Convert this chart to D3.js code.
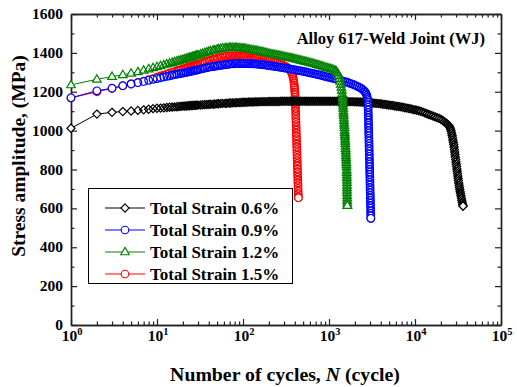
<!DOCTYPE html>
<html>
<head>
<meta charset="utf-8">
<style>
  body { margin: 0; background: #fff; }
  svg text { font-family: "Liberation Serif", "Times New Roman", serif; font-weight: bold; fill: #000; }
</style>
</head>
<body>
<script src="https://cdn.jsdelivr.net/npm/d3@7"></script>
<script>

// data: [cycles, stress amplitude (MPa)] ////////////////////////////////////

const strain06 = [[1,1012],[2,1085],[3,1094],[4,1098],[5,1101],[6,1104],[7,1107],[8,1110],[9,1113],[10,1115],[11,1116],[12,1117],[13,1119],[14,1120],[15,1121],[16,1122],[17,1123],[18,1124],[19,1125],[20,1126],[21,1126],[22,1127],[23,1128],[24,1128],[25,1129],[26,1129],[27,1130],[28,1130],[29,1131],[30,1131],
	[32,1132],[34,1133],[36,1134],[38,1134],[40,1135],[42,1136],[45,1136],[47,1137],[50,1138],[52,1138],[55,1139],[58,1140],[62,1140],[65,1141],[69,1142],[72,1142],[76,1143],[81,1143],[85,1144],[90,1144],[95,1145],
	[100,1146],[105,1146],[111,1146],[117,1147],[124,1147],[131,1147],[138,1148],[145,1148],[153,1148],[162,1149],[171,1149],[180,1149],[190,1149],[200,1150],[211,1150],[223,1150],[235,1150],[248,1150],[262,1150],[276,1151],[291,1151],[307,1151],[324,1151],[342,1151],[360,1151],[380,1151],[401,1151],[423,1151],[447,1151],[471,1151],[497,1151],[525,1151],[554,1151],[584,1151],[616,1151],[650,1151],[686,1151],[724,1151],[763,1151],[805,1151],[850,1151],[897,1151],[946,1151],
	[1000,1151],[1050,1151],[1110,1151],[1170,1151],[1240,1151],[1310,1151],[1380,1150],[1450,1150],[1530,1150],[1620,1150],[1710,1149],[1800,1149],[1900,1149],[2000,1148],[2110,1148],[2230,1147],[2350,1147],[2480,1146],[2620,1146],[2760,1145],[2910,1144],[3070,1143],[3240,1142],[3420,1141],[3600,1140],[3800,1139],[4010,1138],[4230,1136],[4470,1135],[4710,1133],[4970,1132],[5250,1130],[5540,1129],[5840,1127],[6160,1125],[6500,1124],[6860,1122],[7240,1120],[7630,1118],[8050,1116],[8500,1114],[8970,1112],[9460,1109],
	[10000,1107],[10500,1105],[11100,1102],[11700,1099],[12400,1095],[13100,1091],[13800,1087],[14500,1083],[15300,1079],[16200,1075],[17100,1071],[18000,1067],[19000,1063],[20000,1058],[21000,1052],[22000,1045],[22700,1041],[23400,1036],[24100,1031],[24800,1025],[25400,1018],[25900,1008],[26300,998],[26700,986],[27000,975],[27300,964],[27600,952],[27900,940],[28200,928],[28450,916],[28700,903],[28950,890],[29200,877],[29450,864],[29700,851],[29950,839],[30200,827],[30450,815],[30700,803],[30950,791],[31200,779],[31450,767],[31700,755],[31950,743],[32250,731],[32550,719],[32850,708],[33150,697],[33500,686],[33850,676],[34200,665],[34600,654],[35000,642],[35400,631],[35800,621],[36200,612]];

const strain09 = [[1,1169],[2,1205],[3,1218],[4,1231],[5,1240],[6,1247],[7,1253],[8,1259],[9,1264],[10,1268],[11,1272],[12,1276],[13,1279],[14,1282],[15,1285],[16,1288],[17,1290],[18,1292],[19,1294],[20,1296],[21,1298],[22,1300],[23,1302],[24,1303],[25,1305],[26,1307],[27,1309],[28,1310],[29,1312],[30,1313],
	[32,1316],[34,1319],[36,1322],[38,1324],[40,1326],[42,1328],[45,1330],[47,1331],[50,1333],[52,1334],[55,1336],[58,1337],[62,1339],[65,1340],[69,1342],[72,1343],[76,1344],[81,1344],[85,1345],[90,1345],[95,1345],
	[100,1345],[105,1345],[111,1345],[117,1344],[124,1344],[131,1343],[138,1343],[145,1342],[153,1341],[162,1340],[171,1339],[180,1338],[190,1336],[200,1335],[211,1333],[223,1332],[235,1330],[248,1329],[262,1327],[276,1325],[291,1324],[307,1322],[324,1320],[342,1318],[360,1316],[380,1315],[401,1313],[423,1311],[447,1309],[471,1307],[497,1305],[525,1303],[554,1301],[584,1298],[616,1296],[650,1294],[686,1292],[724,1289],[763,1287],[805,1285],[850,1282],[897,1279],[946,1277],
	[1000,1274],[1050,1272],[1110,1269],[1170,1267],[1240,1264],[1310,1261],[1380,1258],[1450,1255],[1530,1252],[1620,1249],[1710,1245],[1800,1242],[1900,1238],[2000,1234],[2110,1229],[2230,1224],[2350,1218],[2460,1212],[2560,1205],[2640,1198],[2700,1190],[2750,1181],[2790,1171],[2820,1160],[2835,1147],[2845,1133],
	[2850,1120],[2855,1107],[2860,1093],[2865,1080],[2870,1067],[2875,1054],[2880,1040],[2885,1027],[2890,1014],[2895,1000],[2900,987],[2905,974],[2910,960],[2915,947],[2920,934],[2925,920],[2930,907],[2935,894],[2940,880],[2945,867],[2950,854],[2955,840],[2960,827],[2965,814],[2970,800],[2975,787],[2980,774],[2985,761],[2990,747],[2995,734],[3000,721],[3005,707],[3010,694],[3015,681],[3020,667],[3025,654],[3030,641],[3035,627],[3040,614],[3045,601],[3050,587],[3055,574],[3060,561],[3066,549]];

const strain12 = [[1,1235],[2,1264],[3,1278],[4,1287],[5,1295],[6,1302],[7,1310],[8,1317],[9,1323],[10,1328],[11,1333],[12,1338],[13,1342],[14,1346],[15,1350],[16,1354],[17,1357],[18,1360],[19,1363],[20,1366],[21,1368],[22,1371],[23,1374],[24,1376],[25,1378],[26,1381],[27,1383],[28,1385],[29,1387],[30,1389],
	[32,1393],[34,1397],[36,1400],[38,1404],[40,1407],[42,1410],[45,1413],[47,1415],[50,1418],[52,1420],[55,1422],[58,1424],[62,1425],[65,1426],[69,1427],[72,1428],[76,1428],[81,1428],[85,1427],[90,1426],[95,1425],
	[100,1424],[105,1423],[111,1421],[117,1419],[124,1417],[131,1415],[138,1413],[145,1412],[153,1410],[162,1407],[171,1405],[180,1402],[190,1400],[200,1397],[211,1395],[223,1393],[235,1391],[248,1389],[262,1387],[276,1385],[291,1383],[307,1380],[324,1378],[342,1376],[360,1374],[380,1372],[401,1369],[423,1367],[447,1364],[471,1362],[497,1359],[525,1357],[554,1354],[584,1351],[616,1349],[650,1346],[686,1343],[724,1340],[763,1337],[805,1334],[850,1331],[897,1327],[946,1324],
	[1000,1321],[1050,1318],[1110,1315],[1170,1311],[1220,1305],[1260,1296],[1295,1283],[1325,1268],[1350,1253],[1372,1238],[1392,1223],[1410,1207],[1425,1190],[1435,1176],
	[1441,1164],[1447,1151],[1453,1139],[1459,1126],[1465,1114],[1471,1101],[1477,1089],[1483,1077],[1489,1064],[1495,1052],[1501,1039],[1507,1027],[1513,1015],[1519,1002],[1525,990],[1530,979],[1535,969],[1540,957],[1545,945],[1550,933],[1555,921],[1560,908],[1565,896],[1570,884],[1575,872],[1580,860],[1585,848],[1590,836],[1595,824],[1600,812],[1606,797],[1608,784],[1610,771],[1612,758],[1614,745],[1616,732],[1618,719],[1620,706],[1622,693],[1624,680],[1626,666],[1628,653],[1630,640],[1632,627],[1633,614]];

const strain15 = [[1,1168],[2,1200],[3,1217],[4,1230],[5,1240],[6,1248],[7,1255],[8,1262],[9,1268],[10,1275],[11,1281],[12,1286],[13,1291],[14,1296],[15,1300],[16,1304],[17,1308],[18,1311],[19,1314],[20,1318],[21,1320],[22,1323],[23,1326],[24,1328],[25,1331],[26,1333],[27,1335],[28,1337],[29,1339],[30,1341],
	[32,1345],[34,1349],[36,1353],[38,1356],[40,1359],[42,1362],[45,1366],[47,1368],[50,1372],[52,1374],[55,1376],[58,1379],[62,1381],[65,1383],[69,1384],[72,1385],[76,1386],[81,1386],[85,1386],[90,1385],[95,1385],
	[100,1384],[105,1383],[111,1381],[117,1380],[124,1378],[131,1377],[138,1375],[145,1374],[153,1372],[162,1370],[171,1367],[180,1365],[190,1363],[200,1361],[211,1358],[223,1355],[235,1352],[248,1349],[262,1345],[276,1341],[291,1337],[307,1332],[324,1326],[342,1319],[355,1310],[365,1300],[373,1290],[380,1279],[385,1268],[389,1256],[392,1245],[395,1233],[397,1222],[399,1210],[401,1198],[403,1186],
	[404,1172],[405,1158],[406,1144],[407,1130],[408,1115],[409,1101],[410,1087],[411,1073],[412,1058],[413,1044],[414,1030],[415,1016],[416,1002],[417,987],[418,973],[419,959],[420,945],[421,930],[422,916],[423,902],[424,888],[425,874],[426,859],[427,845],[428,831],[429,817],[430,802],[431,788],[432,774],[433,760],[434,745],[435,731],[436,717],[437,703],[438,689],[439,675],[440,662],[441,655]];

const legendLabels = ['Total Strain 0.6%', 'Total Strain 0.9%', 'Total Strain 1.2%', 'Total Strain 1.5%'];
const yTicks = [0, 200, 400, 600, 800, 1000, 1200, 1400, 1600];
const yMinor = [100, 300, 500, 700, 900, 1100, 1300, 1500];
const xDecades = [0, 1, 2, 3, 4, 5];
const title = 'Alloy 617-Weld Joint (WJ)';

// layout ///////////////////////////////////////////////////////////////////

const W = 517, H = 387;
const box = {left: 71, right: 501, top: 14, bottom: 325};

const svg = d3.select('body').append('svg')
	.attr('width', W)
	.attr('height', H);

const x = d3.scaleLog()
	.domain([1, 1e5])
	.range([box.left, box.right]);

const y = d3.scaleLinear()
	.domain([0, 1600])
	.range([box.bottom, box.top]);

const series = [
	{label: legendLabels[0], data: strain06, color: '#000000', symbol: 'diamond'},
	{label: legendLabels[1], data: strain09, color: '#0000ff', symbol: 'circle'},
	{label: legendLabels[2], data: strain12, color: '#008000', symbol: 'triangle'},
	{label: legendLabels[3], data: strain15, color: '#ff0000', symbol: 'circle'},
];

function marker(sym) {
	if (sym == 'diamond') { let r = 4.1; return `M0,${-r}L${r},0L0,${r}L${-r},0Z`; }
	if (sym == 'triangle') { return 'M0,-4.6L4.3,2.8L-4.3,2.8Z'; }
	let r = 3.8;
	return `M${-r},0A${r},${r} 0 1,0 ${r},0A${r},${r} 0 1,0 ${-r},0Z`;
}

// axes /////////////////////////////////////////////////////////////////////

const xMinor = [];
xDecades.slice(0, -1).forEach(k => { for (let m = 2; m < 10; m++) xMinor.push(m * Math.pow(10, k)); });
const xMajor = xDecades.map(k => Math.pow(10, k));

const axes = svg.append('g');

function frame(axis, tr) {
	axes.append('g')
		.attr('transform', tr)
		.call(axis)
		.call(a => a.selectAll('text').remove())
		.call(a => a.selectAll('line').attr('stroke', '#222').attr('stroke-width', 1.2))
		.call(a => a.select('.domain').attr('stroke', '#222').attr('stroke-width', 1.4));
}

frame(d3.axisBottom(x).tickValues(xMajor).tickSizeInner(-6).tickSizeOuter(0), `translate(0,${box.bottom})`);
frame(d3.axisBottom(x).tickValues(xMinor).tickSizeInner(-3.5).tickSizeOuter(0), `translate(0,${box.bottom})`);
frame(d3.axisTop(x).tickValues(xMajor).tickSizeInner(-6).tickSizeOuter(0), `translate(0,${box.top})`);
frame(d3.axisTop(x).tickValues(xMinor).tickSizeInner(-3.5).tickSizeOuter(0), `translate(0,${box.top})`);
frame(d3.axisLeft(y).tickValues(yTicks).tickSizeInner(-6).tickSizeOuter(0), `translate(${box.left},0)`);
frame(d3.axisLeft(y).tickValues(yMinor).tickSizeInner(-3.5).tickSizeOuter(0), `translate(${box.left},0)`);
frame(d3.axisRight(y).tickValues(yTicks).tickSizeInner(-6).tickSizeOuter(0), `translate(${box.right},0)`);
frame(d3.axisRight(y).tickValues(yMinor).tickSizeInner(-3.5).tickSizeOuter(0), `translate(${box.right},0)`);

// tick labels
svg.append('g').selectAll('text')
	.data(yTicks)
	.join('text')
		.attr('x', box.left - 8)
		.attr('y', d => y(d) + 5)
		.attr('text-anchor', 'end')
		.attr('font-size', 15.5)
		.text(d => d);

svg.append('g').selectAll('text')
	.data(xDecades)
	.join('text')
		.attr('x', d => x(Math.pow(10, d)) + 1)
		.attr('y', box.bottom + 16)
		.attr('text-anchor', 'middle')
		.attr('font-size', 15.5)
		.call(t => t.append('tspan').text('10'))
		.call(t => t.append('tspan')
			.attr('dy', -6)
			.attr('font-size', 10.5)
			.text(d => d));

// axis titles
svg.append('text')
	.attr('x', 285)
	.attr('y', 381)
	.attr('text-anchor', 'middle')
	.attr('font-size', 19.8)
	.call(t => t.append('tspan').text('Number of cycles, '))
	.call(t => t.append('tspan').attr('font-style', 'italic').text('N'))
	.call(t => t.append('tspan').text(' (cycle)'));

svg.append('text')
	.attr('transform', `translate(25,156) rotate(-90)`)
	.attr('text-anchor', 'middle')
	.attr('font-size', 19.5)
	.text('Stress amplitude, (MPa)');

svg.append('text')
	.attr('x', 485)
	.attr('y', 44)
	.attr('text-anchor', 'end')
	.attr('font-size', 16.5)
	.text(title);

// series ///////////////////////////////////////////////////////////////////

const line = d3.line()
	.x(d => x(d[0]))
	.y(d => y(d[1]));

// drawing order as in the original figure: red, black, blue, green
const plot = svg.append('g');
[3, 0, 1, 2].forEach(i => {
	const s = series[i];
	const g = plot.append('g');
	g.append('path')
		.attr('d', line(s.data))
		.attr('fill', 'none')
		.attr('stroke', s.color)
		.attr('stroke-width', 1);
	// hollow symbols: white body first, then every outline
	g.append('g').selectAll('path')
		.data(s.data)
		.join('path')
			.attr('transform', d => `translate(${x(d[0])},${y(d[1])})`)
			.attr('d', marker(s.symbol))
			.attr('fill', '#fff');
	g.append('g').selectAll('path')
		.data(s.data)
		.join('path')
			.attr('transform', d => `translate(${x(d[0])},${y(d[1])})`)
			.attr('d', marker(s.symbol))
			.attr('fill', 'none')
			.attr('stroke', s.color)
			.attr('stroke-width', 1.2);
	const last = s.data[s.data.length - 1];
	g.append('path')
		.attr('transform', `translate(${x(last[0])},${y(last[1])})`)
		.attr('d', marker(s.symbol))
		.attr('fill', '#fff')
		.attr('stroke', s.color)
		.attr('stroke-width', 1.2);
});

// legend ///////////////////////////////////////////////////////////////////

const legend = svg.append('g');
legend.append('rect')
	.attr('x', 88.5).attr('y', 188.5)
	.attr('width', 204).attr('height', 95)
	.attr('fill', '#fff')
	.attr('stroke', '#000')
	.attr('stroke-width', 1);

legend.selectAll('.item')
	.data(series)
	.join('g')
		.attr('class', 'item')
		.attr('transform', (d, i) => `translate(0,${208 + i * 22})`)
		.each(function(d) {
			const g = d3.select(this);
			g.append('line')
				.attr('x1', 105).attr('x2', 145)
				.attr('stroke', d.color).attr('stroke-width', 1);
			g.append('path')
				.attr('transform', 'translate(125,0)')
				.attr('d', marker(d.symbol))
				.attr('fill', '#fff')
				.attr('stroke', d.color)
				.attr('stroke-width', 1.1);
			g.append('text')
				.attr('x', 150)
				.attr('y', 6)
				.attr('font-size', 17)
				.text(d.label);
		});

</script>
</body>
</html>
